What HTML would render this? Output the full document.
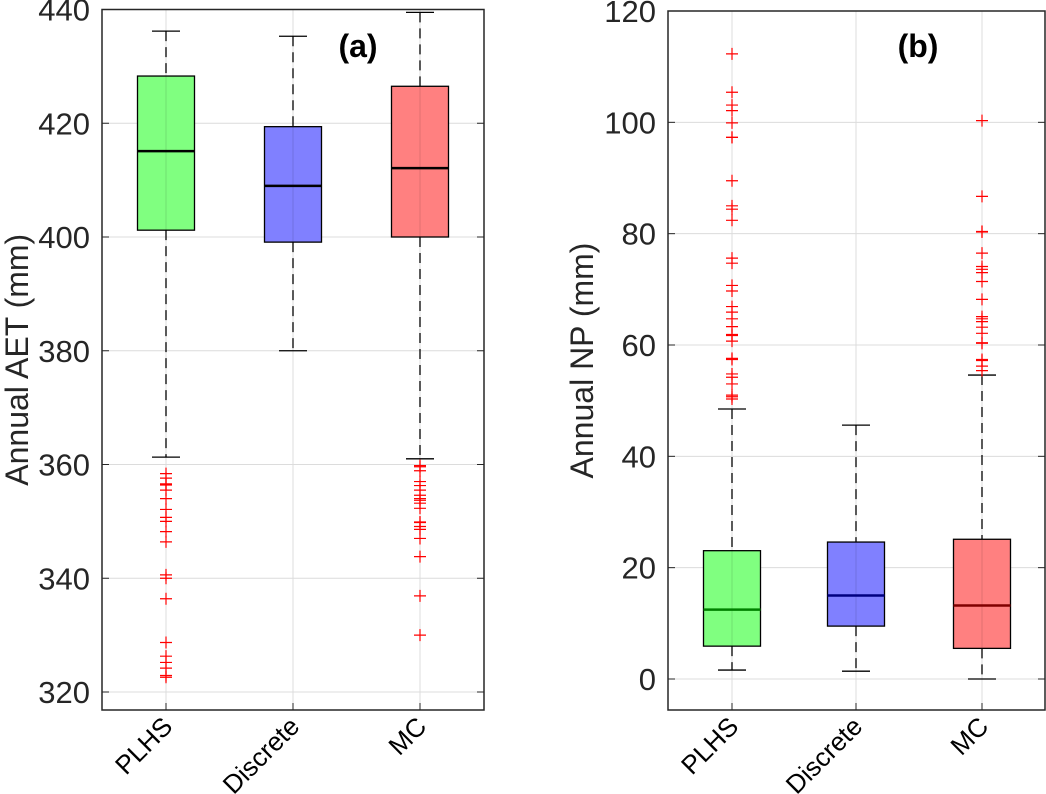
<!DOCTYPE html>
<html><head><meta charset="utf-8"><style>
html,body{margin:0;padding:0;background:#fff;}
svg{display:block;font-family:"Liberation Sans",Arial,sans-serif;}
</style></head><body>
<svg id="chart" width="1046" height="794" viewBox="0 0 1046 794" xmlns="http://www.w3.org/2000/svg"></svg>
<script>
const categories = ["PLHS","Discrete","MC"];
// Panel (a) AET: [lowerWhisker, q1, median, q3, upperWhisker]
const aetStats = [[361.3,401.2,415.1,428.3,436.2],[380.0,399.1,409.0,419.4,435.3],[361.0,400.0,412.1,426.5,439.5]];
const aetOutPLHS = [358.4,357.6,356.6,356.4,355.5,354.0,352.1,350.7,350.0,348.2,346.4,340.6,340.0,336.4,328.7,326.3,325.2,324.2,322.9,322.6];
const aetOutDiscrete = [];
const aetOutMC = [359.8,359.6,358.9,357.0,356.3,355.5,354.6,354.0,353.7,353.2,352.3,349.9,349.8,349.1,348.6,347.0,343.8,336.9,330.0];
const aetTicks = [320,340,360,380,400,420,440];
// Panel (b) NP
const npStats = [[1.6,5.9,12.45,23.05,48.5],[1.4,9.5,15.0,24.6,45.6],[0.0,5.5,13.2,25.1,54.6]];
const npOutPLHS = [112.3,105.4,103.1,102.1,99.9,97.3,97.3,89.5,85.0,84.4,82.4,75.6,74.7,70.7,69.7,66.9,65.9,64.7,63.3,61.9,61.7,60.7,57.6,57.4,54.8,54.2,53.0,51.0,50.7,50.3];
const npOutDiscrete = [];
const npOutMC = [100.3,86.7,80.4,80.3,76.5,74.1,73.6,73.0,71.4,68.2,65.1,64.7,64.2,63.2,62.1,60.4,60.3,57.4,57.2,56.2,55.4];
const npTicks = [0,20,40,60,80,100,120];

const fills = ["#80ff80","#8080ff","#ff8080"];
const medColorsA = ["#000","#000","#000"];
const medColorsB = ["#008000","#000080","#800000"];
const NS = "http://www.w3.org/2000/svg";
const svg = document.getElementById('chart');
function mk(tag, attrs, parent){const e=document.createElementNS(NS,tag);for(const k in attrs)e.setAttribute(k,attrs[k]);(parent||svg).appendChild(e);return e;}

function panel(cfg){
  const g = mk('g',{});
  
  
  const {x0,x1,yTop,yBot,vTop,vBot,cx} = cfg;
  const y = v => yBot - (v - vBot) / (vTop - vBot) * (yBot - yTop);
  cfg.ticks.forEach((t,i)=>{
    const gl = mk('line',{x1:x0,x2:x1,y1:y(t),y2:y(t),stroke:'#dcdcdc','stroke-width':1},g);
    
    
  });
  cx.forEach(c=>{
    const gl = mk('line',{x1:c,x2:c,y1:yTop,y2:yBot,stroke:'#dcdcdc','stroke-width':1},g);
    
    
  });
  cfg.stats.forEach((s,i)=>{
    const c = cx[i], hw = 28.5, cw = 14;
    const bg = mk('g',{},g);
    
    
    mk('line',{x1:c,x2:c,y1:y(s[4]),y2:y(s[3]),stroke:'#000','stroke-width':1.3,'stroke-dasharray':'10,6'},bg);
    mk('line',{x1:c,x2:c,y1:y(s[1]),y2:y(s[0]),stroke:'#000','stroke-width':1.3,'stroke-dasharray':'10,6'},bg);
    mk('line',{x1:c-cw,x2:c+cw,y1:y(s[4]),y2:y(s[4]),stroke:'#000','stroke-width':1.3},bg);
    mk('line',{x1:c-cw,x2:c+cw,y1:y(s[0]),y2:y(s[0]),stroke:'#000','stroke-width':1.3},bg);
    mk('rect',{x:c-hw,y:y(s[3]),width:2*hw,height:y(s[1])-y(s[3]),fill:fills[i],stroke:'#000','stroke-width':1.3},bg);
    mk('line',{x1:c,x2:c,y1:y(s[3]),y2:y(s[1]),stroke:'rgba(0,0,0,0.12)','stroke-width':1},bg);
    mk('line',{x1:c-hw,x2:c+hw,y1:y(s[2]),y2:y(s[2]),stroke:cfg.med[i],'stroke-width':2.5},bg);
    cfg.outs[i].forEach(v=>{
      const p = mk('path',{d:`M${c-6},${y(v)}h12M${c},${y(v)-6}v12`,stroke:'#ff0000','stroke-width':1.2,fill:'none'},bg);
      
      
    });
  });
  const fr = mk('rect',{x:x0,y:yTop,width:x1-x0,height:yBot-yTop,fill:'none',stroke:'#262626','stroke-width':1.5},g);
  
  
  cfg.ticks.forEach(t=>{
    mk('line',{x1:x0,x2:x0+7,y1:y(t),y2:y(t),stroke:'#262626','stroke-width':1},g);
    mk('line',{x1:x1-7,x2:x1,y1:y(t),y2:y(t),stroke:'#262626','stroke-width':1},g);
    const tl = mk('text',{x:x0-12,y:y(t)+11,'text-anchor':'end','font-size':31,fill:'#262626'},g);
    tl.textContent = String(t);
    
    
  });
  cx.forEach((c,i)=>{
    mk('line',{x1:c,x2:c,y1:yBot-7,y2:yBot,stroke:'#262626','stroke-width':1},g);
    const xl = mk('text',{x:0,y:0,'text-anchor':'end','font-size':26,fill:'#000',transform:`translate(${c+8},${yBot+18}) rotate(-45)`},g);
    xl.textContent = categories[i];
    
    
  });
  const yl = mk('text',{x:0,y:0,'text-anchor':'middle','font-size':32,fill:'#262626',transform:`translate(${cfg.ylx},${(yTop+yBot)/2}) rotate(-90)`},g);
  yl.textContent = cfg.ylabel;
  
  
  const pl = mk('text',{x:cfg.plx,y:57,'text-anchor':'middle','font-size':32,'font-weight':'bold',fill:'#000'},g);
  pl.textContent = cfg.label;
  
  
}
panel({name:'panel-a-aet',x0:102,x1:484,yTop:9.5,yBot:710,vTop:440,vBot:320-(710-692)/113.8*20,cx:[166,293,420],
  stats:aetStats,outs:[aetOutPLHS,aetOutDiscrete,aetOutMC],ticks:aetTicks,med:medColorsA,ylabel:'Annual AET (mm)',ylx:28,label:'(a)',plx:358});
panel({name:'panel-b-np',x0:668,x1:1045,yTop:11,yBot:710,vTop:120,vBot:-(710-679)/111.3*20,cx:[732,856,982],
  stats:npStats,outs:[npOutPLHS,npOutDiscrete,npOutMC],ticks:npTicks,med:medColorsB,ylabel:'Annual NP (mm)',ylx:593,label:'(b)',plx:918});
</script>
</body></html>
